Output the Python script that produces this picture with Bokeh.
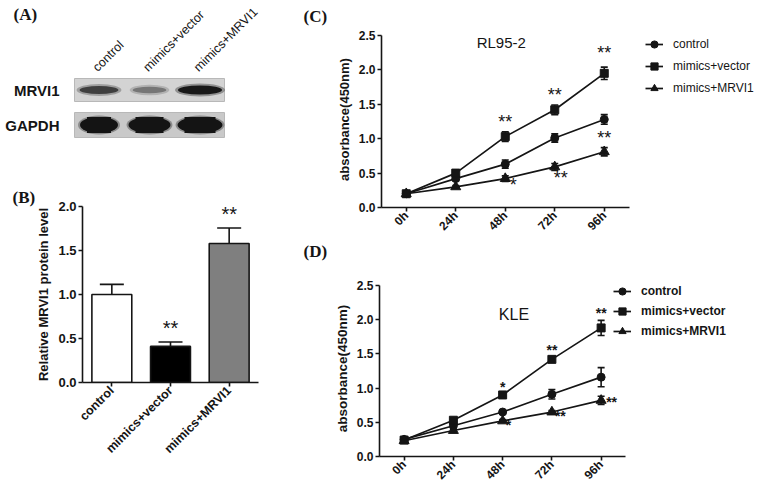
from math import pi, sqrt
from bokeh.plotting import figure
from bokeh.layouts import row, column
from bokeh.models import (ColumnDataSource, Whisker, TeeHead, Legend, LegendItem, Label,
                          Range1d, FixedTicker, PrintfTickFormatter)
from bokeh.core.properties import value
from bokeh.embed import file_html
from bokeh.resources import INLINE

SANS = "Liberation Sans"
SERIF = "Liberation Serif"
INK = "#151515"

# ---------------- data ----------------
lanes = ["control", "mimics+vector", "mimics+MRVI1"]
protein_level = [1.00, 0.41, 1.58]
protein_err = [0.115, 0.05, 0.175]
protein_sig = ["", "**", "**"]
blot_rows = ["MRVI1", "GAPDH"]

times = ["0h", "24h", "48h", "72h", "96h"]
series = ["control", "mimics+vector", "mimics+MRVI1"]

rl_control = [0.20, 0.42, 0.63, 1.01, 1.28]
rl_control_err = [0.02, 0.03, 0.06, 0.06, 0.07]
rl_vector = [0.20, 0.50, 1.03, 1.42, 1.95]
rl_vector_err = [0.02, 0.03, 0.07, 0.07, 0.09]
rl_mrvi1 = [0.20, 0.30, 0.42, 0.59, 0.81]
rl_mrvi1_err = [0.02, 0.02, 0.04, 0.05, 0.06]

kle_control = [0.25, 0.45, 0.65, 0.91, 1.16]
kle_control_err = [0.02, 0.02, 0.02, 0.07, 0.14]
kle_vector = [0.24, 0.53, 0.90, 1.42, 1.88]
kle_vector_err = [0.02, 0.02, 0.02, 0.03, 0.11]
kle_mrvi1 = [0.23, 0.38, 0.52, 0.65, 0.82]
kle_mrvi1_err = [0.02, 0.02, 0.02, 0.02, 0.06]

rl_sig_series = [1, 1, 1, 2, 2, 2]
rl_sig_time = [2, 3, 4, 2, 3, 4]
rl_sig_text = ["**", "**", "**", "*", "**", "**"]
rl_sig_place = ["above", "above", "above_far", "below_right", "below", "above"]

kle_sig_series = [1, 1, 1, 2, 2, 2]
kle_sig_time = [2, 3, 4, 2, 3, 4]
kle_sig_text = ["*", "**", "**", "*", "**", "**"]
kle_sig_place = ["above", "above", "above", "right_low", "right_low", "right"]


# ---------------- helpers ----------------
def base_fig(fw, fh, left, right, top, bottom, x_range, y_range, **kw):
    p = figure(frame_width=fw, frame_height=fh, min_border_left=left, min_border_right=right,
               min_border_top=top, min_border_bottom=bottom, x_range=x_range, y_range=y_range,
               output_backend="svg", toolbar_location=None, tools="", **kw)
    p.outline_line_color = None
    p.background_fill_color = "white"
    p.border_fill_color = "white"
    p.xgrid.visible = False
    p.ygrid.visible = False
    try:
        p.frame_align = False
    except Exception:
        pass
    return p


def style_axis(ax, tick_px, label_px, label_style="bold"):
    ax.axis_line_width = 1.6
    ax.axis_line_color = INK
    ax.major_tick_line_width = 1.6
    ax.major_tick_line_color = INK
    ax.major_tick_out = 4
    ax.major_tick_in = 0
    ax.minor_tick_line_color = None
    ax.major_label_text_font = SANS
    ax.major_label_text_font_style = "bold"
    ax.major_label_text_font_size = tick_px
    ax.major_label_text_color = INK
    ax.major_label_standoff = 2
    ax.axis_label_text_font = SANS
    ax.axis_label_text_font_style = label_style
    ax.axis_label_text_font_size = label_px
    ax.axis_label_text_color = INK
    ax.axis_label_standoff = 4


def letter_text(p, x, y):
    pass


LETTER = dict(text_font=value(SERIF), text_font_style="bold", text_font_size=value("17px"),
              text_align="left", text_baseline="middle", text_color=INK)

# ---------------- panel A: western blot (canvas coords = pixels) ----------------
LEFT_W = 330
pA = base_fig(LEFT_W, 150, 0, 0, 0, 0, Range1d(0, LEFT_W), Range1d(150, 0),
              x_axis_location=None, y_axis_location=None)
lane_x0, lane_step = 98.5, 50.5
lane_x = [lane_x0 + lane_step * i for i in range(len(lanes))]
box_cx = lane_x[1]
row_y = {"MRVI1": 89.5, "GAPDH": 124.5}
row_h = {"MRVI1": 23, "GAPDH": 25}
row_bg = {"MRVI1": "#d3d3d3", "GAPDH": "#c9c9c9"}
for r in blot_rows:
    pA.rect(x=[box_cx], y=[row_y[r]], width=150, height=row_h[r], fill_color=row_bg[r],
            line_color="#b8b8b8", line_width=1)
    pA.text(x=[59], y=[row_y[r]], text=[r], text_font=value(SANS), text_font_style="bold",
            text_font_size=value("15px"), text_align="right", text_baseline="middle", text_color=INK)
# MRVI1 bands: darkness follows the relative protein level
mx = max(protein_level)
for i, lv in enumerate(protein_level):
    rr = lv / mx
    g = int(215 - 190 * sqrt(rr))
    col = "#%02x%02x%02x" % (g, g, g)
    w = 30 + 14 * rr
    h = 4 + 5 * sqrt(rr)
    pA.ellipse(x=[lane_x[i]], y=[row_y["MRVI1"]], width=w + 6, height=h + 4, fill_color=col,
               fill_alpha=0.35, line_color=None)
    pA.ellipse(x=[lane_x[i]], y=[row_y["MRVI1"]], width=w, height=h, fill_color=col, line_color=None)
gapdh_w = [38, 42, 45]
for i in range(len(lanes)):
    pA.ellipse(x=[lane_x[i]], y=[row_y["GAPDH"]], width=gapdh_w[i] + 4, height=19, fill_color="#303030",
               fill_alpha=0.4, line_color=None)
    pA.ellipse(x=[lane_x[i]], y=[row_y["GAPDH"]], width=gapdh_w[i], height=16, fill_color="#141414",
               line_color=None)
    pA.rect(x=[lane_x[i]], y=[row_y["GAPDH"]], width=gapdh_w[i] - 14, height=16, fill_color="#141414",
            line_color=None)
pA.text(x=[x - 4 for x in lane_x], y=[69] * 3, text=lanes, angle=pi / 4, text_font=value(SANS),
        text_font_size=value("12.5px"), text_align="left", text_baseline="alphabetic", text_color=INK)
pA.text(x=[13, 303], y=[14, 16], text=["(A)", "(C)"], **LETTER)

# ---------------- panel B: bar chart ----------------
B_LEFT, B_TOP, B_FH, B_STEP = 82, 56, 176, 176 / 3
B_PX_UNIT = B_FH / 2.0
b_fw = LEFT_W - B_LEFT
pB = base_fig(b_fw, B_FH, B_LEFT, 0, B_TOP, 110,
              Range1d(0.5, 0.5 + b_fw / B_STEP), Range1d(0, 2.0))
lane_pos = [i + 1 for i in range(len(lanes))]
bar_colors = ["white", "black", "#7f7f7f"]
srcB = ColumnDataSource(dict(x=lane_pos, top=protein_level,
                             up=[v + e for v, e in zip(protein_level, protein_err)],
                             color=bar_colors, sig=protein_sig))
pB.vbar(x="x", top="top", width=0.68, source=srcB, fill_color="color", line_color=INK, line_width=1.6)
pB.add_layout(Whisker(source=srcB, base="x", upper="up", lower="top", line_color=INK, line_width=1.6,
                      upper_head=TeeHead(size=24, line_width=1.6, line_color=INK), lower_head=None))
pB.text(x="x", y="up", text="sig", source=srcB, text_font=value(SANS), text_font_size=value("20px"),
        text_align="center", text_baseline="alphabetic", y_offset=-14, text_color=INK)
pB.xaxis.ticker = FixedTicker(ticks=lane_pos)
pB.xaxis.major_label_overrides = {p_: n for p_, n in zip(lane_pos, lanes)}
pB.xaxis.bounds = (0.5, 0.5 + len(lanes))
pB.yaxis.ticker = FixedTicker(ticks=[0, 0.5, 1.0, 1.5, 2.0])
pB.yaxis.formatter = PrintfTickFormatter(format="%.1f")
pB.yaxis.axis_label = "Relative MRVI1 protein level"
style_axis(pB.yaxis[0], "13px", "13px")
style_axis(pB.xaxis[0], "12.5px", "12px")
pB.xaxis.major_label_orientation = pi / 4
pB.title.text = "(B)"
pB.title.align = "left"
pB.title.offset = -70
pB.title.standoff = 0
pB.title.text_font = SERIF
pB.title.text_font_style = "bold"
pB.title.text_font_size = "17px"
pB.title.text_color = INK
# panel letter (D) sits in the free area right of panel B (page px -> B data coords)
d_px, d_py = 303, 251
B_FRAME_BOTTOM = 150 + B_TOP + B_FH
pB.text(x=[0.5 + (d_px - B_LEFT) / B_STEP], y=[(B_FRAME_BOTTOM - d_py) / B_PX_UNIT], text=["(D)"], **LETTER)

# ---------------- panels C & D: growth curves ----------------
markers = ["circle", "square", "triangle"]
msizes = [8, 8, 10]


def growth(vals, errs, geom, px_per_step, px_per_unit, title, title_xy, title_px,
           sig, sig_px, sig_weight, sig_style, leg_loc, leg_h, leg_bold, tick_px, lab_px):
    fw, fh, l, r, t, b = geom
    x_end = -0.5 + fw / px_per_step
    y_end = fh / px_per_unit
    p = base_fig(fw, fh, l, r, t, b, Range1d(-0.5, x_end), Range1d(0, y_end))
    xs = list(range(len(times)))
    items = []
    for k, name in enumerate(series):
        src = ColumnDataSource(dict(x=xs, y=vals[k], u=[v + e for v, e in zip(vals[k], errs[k])],
                                    l=[v - e for v, e in zip(vals[k], errs[k])]))
        lr = p.line(x="x", y="y", source=src, line_color=INK, line_width=1.7)
        sr = p.scatter(x="x", y="y", source=src, marker=markers[k], size=msizes[k], fill_color=INK,
                       line_color=INK)
        p.add_layout(Whisker(source=src, base="x", upper="u", lower="l", line_color=INK, line_width=1.6,
                             upper_head=TeeHead(size=7, line_width=1.6, line_color=INK),
                             lower_head=TeeHead(size=7, line_width=1.6, line_color=INK)))
        items.append(LegendItem(label=name, renderers=[lr, sr]))
    s_ser, s_t, s_txt, s_pl = sig
    groups = {}
    for si, ti, tx, pl in zip(s_ser, s_t, s_txt, s_pl):
        align, dx, dy, side = sig_style[pl]
        v, e = vals[si][ti], errs[si][ti]
        yy = v + e if side == "top" else (v - e if side == "bottom" else v)
        g = groups.setdefault(align, dict(x=[], y=[], t=[], dx=[], dy=[]))
        g["x"].append(ti); g["y"].append(yy); g["t"].append(tx); g["dx"].append(dx); g["dy"].append(dy)
    for align, g in groups.items():
        p.text(x="x", y="y", text="t", x_offset="dx", y_offset="dy", source=ColumnDataSource(g),
               text_font=value(SANS), text_font_size=value(sig_px), text_font_style=sig_weight,
               text_align=align, text_baseline="alphabetic", text_color=INK)
    p.add_layout(Label(x=title_xy[0], y=title_xy[1], text=title, text_font=SANS, text_font_size=title_px,
                       text_align="center", text_baseline="middle", text_color=INK))
    p.xaxis.ticker = FixedTicker(ticks=xs)
    p.xaxis.major_label_overrides = {i: t for i, t in enumerate(times)}
    p.xaxis.major_label_orientation = pi / 4
    p.xaxis.bounds = (-0.5, 4.5)
    p.yaxis.ticker = FixedTicker(ticks=[0, 0.5, 1.0, 1.5, 2.0, 2.5])
    p.yaxis.formatter = PrintfTickFormatter(format="%.1f")
    p.yaxis.bounds = (0, 2.5)
    p.yaxis.axis_label = "absorbance(450nm)"
    style_axis(p.xaxis[0], tick_px, lab_px)
    style_axis(p.yaxis[0], tick_px, lab_px)
    leg = Legend(items=items, location=leg_loc, orientation="vertical", padding=0, margin=0, spacing=0,
                 glyph_width=18, glyph_height=leg_h, label_height=leg_h, label_standoff=10,
                 label_text_font=SANS, label_text_font_size="12px",
                 label_text_font_style="bold" if leg_bold else "normal", label_text_color=INK,
                 border_line_color=None, background_fill_alpha=0)
    p.add_layout(leg)
    return p


rl_style = {"above": ("center", 0, -10, "top"),
            "above_far": ("center", 0, -14, "top"),
            "below": ("center", 6, 8, "bottom"),
            "below_right": ("center", 8, 4, "bottom")}
kle_style = {"above": ("center", 0, -7, "top"),
             "right": ("left", 5, 2, "mid"),
             "right_low": ("left", 3, 4, "mid")}

RIGHT_W = 761 - LEFT_W
pC = growth([rl_control, rl_vector, rl_mrvi1], [rl_control_err, rl_vector_err, rl_mrvi1_err],
            (RIGHT_W - 51, 176, 51, 0, 31, 38), 49.5, 68.8, "RL95-2", (1.92, 2.40), "15px",
            (rl_sig_series, rl_sig_time, rl_sig_text, rl_sig_place), "18px", "normal", rl_style,
            (264, 108), 22, False, "12px", "13px")

pD = growth([kle_control, kle_vector, kle_mrvi1], [kle_control_err, kle_vector_err, kle_mrvi1_err],
            (RIGHT_W - 49, 176, 49, 0, 35, 36), 49.25, 68.4, "KLE", (2.23, 2.08), "16px",
            (kle_sig_series, kle_sig_time, kle_sig_text, kle_sig_place), "14px", "bold", kle_style,
            (234, 115), 20, True, "12px", "13.5px")

layout = row(column(pA, pB), column(pC, pD))
open("out.html", "w").write(file_html(layout, INLINE))
